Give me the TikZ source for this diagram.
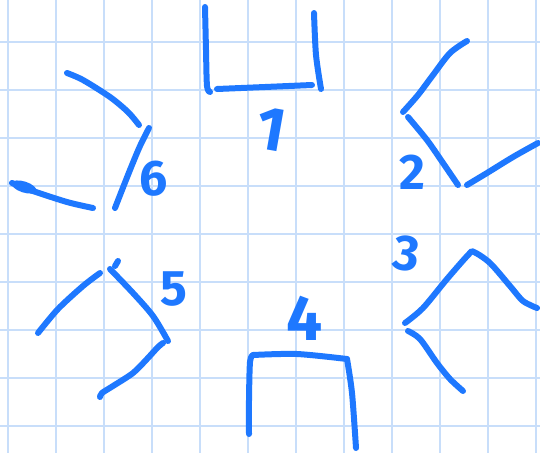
\documentclass[tikz,border=0pt]{standalone}
\usepackage{fontspec}
\setmainfont{Fira Sans}
\definecolor{ink}{RGB}{30,120,255}
\definecolor{gridc}{RGB}{200,222,250}
\tikzset{
  pen/.style={draw=ink, line width=6, line cap=round, line join=round},
  gridline/.style={draw=gridc, line width=2},
  digit/.style={text=ink, inner sep=0pt, font=\fontsize{50}{50}\selectfont\bfseries}
}
\begin{document}
\begin{tikzpicture}[x=1pt,y=-1pt]
\useasboundingbox (0,0) rectangle (540,453);
\fill[white] (0,0) rectangle (540,453);
% grid
\foreach \gx in {8,56,...,536} \draw[gridline] (\gx,0) -- (\gx,453);
\foreach \gy in {42,90,...,426} \draw[gridline] (0,\gy) -- (540,\gy);
% top bracket
\draw[pen] plot[smooth] coordinates {(205,7) (206,50) (207,86) (210,92)};
\draw[pen] plot[smooth] coordinates {(217,89) (265,87) (312,85)};
\draw[pen] plot[smooth] coordinates {(314,13) (316,55) (321,89)};
% upper left
\draw[pen] plot[smooth] coordinates {(67,73) (83,80) (110,97) (128,112) (139,125)};
\draw[pen] plot[smooth] coordinates {(149,128) (140,146) (132,165) (124,185) (115,208)};
\draw[pen] plot[smooth] coordinates {(12,183) (30,190) (67,202) (93,208)};
\fill[ink, rotate around={-18:(24,187)}] (24,187) ellipse [x radius=13pt, y radius=5.5pt];
% upper right
\draw[pen] plot[smooth] coordinates {(467,41) (450,53) (433,75) (418,95) (403,112)};
\draw[pen] plot[smooth] coordinates {(408,117) (427,140) (443,163) (458,185)};
\draw[pen] plot[smooth] coordinates {(467,185) (487,173) (513,157) (538,143)};
% lower right
\draw[pen] plot[smooth] coordinates {(405,323) (423,308) (447,279) (469,254) (474,252) (490,263) (510,286) (523,301) (537,308)};
\draw[pen] plot[smooth] coordinates {(408,331) (420,339) (437,363) (450,379) (463,391)};
% bottom bracket
\draw[pen] plot[smooth] coordinates {(253,355) (250,362) (249,400) (249,434)};
\draw[pen] plot[smooth] coordinates {(253,355) (297,354) (347,359)};
\draw[pen] plot[smooth] coordinates {(347,359) (352,393) (356,448)};
% lower left
\draw[pen] plot[smooth] coordinates {(100,273) (83,286) (58,309) (38,333)};
\draw[pen] (118,261) -- (115,266);
\draw[pen] plot[smooth] coordinates {(110,269) (133,293) (153,316) (168,341)};
\draw[pen] plot[smooth] coordinates {(163,343) (158,347) (147,359) (133,373) (113,386) (102,393) (100,397)};
% labels
\node[digit, rotate=-10, font=\fontsize{62}{62}\selectfont\bfseries] (n1) at (271,129) {1};
\node[digit] (n2) at (412,172) {2};
\node[digit, rotate=-8] (n3) at (407,254) {3};
\node[digit, font=\fontsize{64}{64}\selectfont\bfseries] (n4) at (305,318) {4};
\node[digit] (n5) at (174,289) {5};
\node[digit] (n6) at (154,179) {6};
\end{tikzpicture}
\end{document}
